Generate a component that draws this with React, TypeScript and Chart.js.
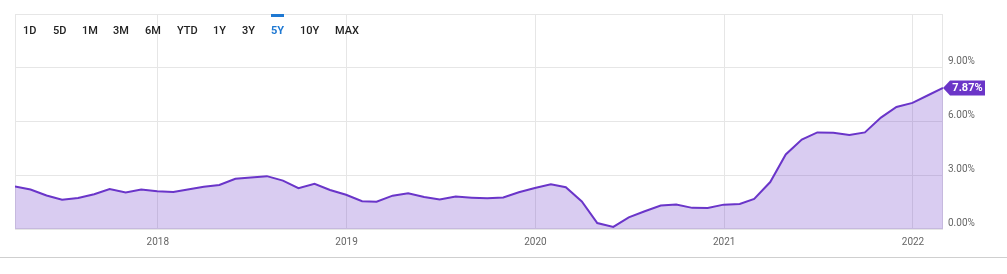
import React, { useEffect, useRef } from "react";
import { Chart, registerables } from "chart.js";

Chart.register(...registerables);

// Month-end observations (YYYY-MM), US CPI YoY %
const months: string[] = [
  "2017-03", "2017-04", "2017-05", "2017-06", "2017-07", "2017-08", "2017-09", "2017-10", "2017-11", "2017-12",
  "2018-01", "2018-02", "2018-03", "2018-04", "2018-05", "2018-06", "2018-07", "2018-08", "2018-09", "2018-10", "2018-11", "2018-12",
  "2019-01", "2019-02", "2019-03", "2019-04", "2019-05", "2019-06", "2019-07", "2019-08", "2019-09", "2019-10", "2019-11", "2019-12",
  "2020-01", "2020-02", "2020-03", "2020-04", "2020-05", "2020-06", "2020-07", "2020-08", "2020-09", "2020-10", "2020-11", "2020-12",
  "2021-01", "2021-02", "2021-03", "2021-04", "2021-05", "2021-06", "2021-07", "2021-08", "2021-09", "2021-10", "2021-11", "2021-12",
  "2022-01", "2022-02",
];

const values: number[] = [
  2.38, 2.20, 1.87, 1.63, 1.73, 1.94, 2.23, 2.04, 2.20, 2.11,
  2.07, 2.21, 2.36, 2.46, 2.80, 2.87, 2.95, 2.70, 2.28, 2.52, 2.18, 1.91,
  1.55, 1.52, 1.86, 2.00, 1.79, 1.65, 1.81, 1.75, 1.71, 1.76, 2.05, 2.29,
  2.49, 2.33, 1.54, 0.33, 0.12, 0.65, 0.99, 1.31, 1.37, 1.18, 1.17, 1.36,
  1.40, 1.68, 2.62, 4.16, 4.99, 5.39, 5.37, 5.25, 5.39, 6.22, 6.81, 7.04,
  7.48, 7.87,
];

const yearTicks: number[] = [2018, 2019, 2020, 2021, 2022];
const yTicks: number[] = [0, 3, 6, 9, 12];
const rangeButtons: string[] = ["1D", "5D", "1M", "3M", "6M", "YTD", "1Y", "3Y", "5Y", "10Y", "MAX"];
const buttonLefts: number[] = [23, 53, 82, 113, 145, 177, 213, 242, 271, 300, 335];
const activeButton = "5Y";

function monthEndToYear(m: string): number {
  const [y, mo] = m.split("-").map(Number);
  const d = Date.UTC(y, mo, 0);
  const s = Date.UTC(y, 0, 1);
  const e = Date.UTC(y + 1, 0, 1);
  return y + (d - s) / (e - s);
}

const LINE = "#6a35c9";
const GRID = "#e6e6e6";

export default function App() {
  const ref = useRef<HTMLCanvasElement | null>(null);

  useEffect(() => {
    if (!ref.current) return;
    const pts = months.map((m, i) => ({ x: monthEndToYear(m), y: values[i] }));

    const borderPlugin = {
      id: "areaBorder",
      beforeDatasetsDraw(chart: any) {
        const { ctx, chartArea } = chart;
        ctx.save();
        ctx.strokeStyle = GRID;
        ctx.lineWidth = 1;
        const l = Math.round(chartArea.left) + 0.5;
        const r = Math.round(chartArea.right) - 0.5;
        const t = Math.round(chartArea.top) + 0.5;
        const b = Math.round(chartArea.bottom) - 0.5;
        ctx.strokeRect(l, t, r - l, b - t);
        ctx.restore();
      },
    };

    const lastLabelPlugin = {
      id: "lastLabel",
      afterDatasetsDraw(chart: any) {
        const meta = chart.getDatasetMeta(0);
        const el = meta.data[meta.data.length - 1];
        if (!el) return;
        const { ctx } = chart;
        const x = el.x;
        const y = el.y;
        const h = 15;
        ctx.save();
        ctx.fillStyle = "#6b35c8";
        ctx.beginPath();
        ctx.moveTo(x, y);
        ctx.lineTo(x + 7, y - h / 2);
        ctx.lineTo(x + 42, y - h / 2);
        ctx.lineTo(x + 42, y + h / 2);
        ctx.lineTo(x + 7, y + h / 2);
        ctx.closePath();
        ctx.fill();
        ctx.fillStyle = "#ffffff";
        ctx.font = "bold 11px Roboto";
        ctx.textAlign = "center";
        ctx.textBaseline = "middle";
        ctx.fillText(values[values.length - 1].toFixed(2) + "%", x + 24.5, y + 0.5);
        ctx.restore();
      },
    };

    const chart = new Chart(ref.current, {
      type: "line",
      data: {
        datasets: [
          {
            data: pts,
            borderColor: LINE,
            borderWidth: 2,
            backgroundColor: "rgba(104, 52, 200, 0.25)",
            fill: "origin",
            pointRadius: 0,
            tension: 0,
          },
        ],
      },
      options: {
        responsive: false,
        animation: false,
        events: [],
        layout: { padding: { left: 15, top: 14, right: 0, bottom: 0 } },
        plugins: { legend: { display: false }, tooltip: { enabled: false } },
        scales: {
          x: {
            type: "linear",
            min: pts[0].x,
            max: pts[pts.length - 1].x,
            afterBuildTicks(scale: any) {
              scale.ticks = yearTicks.map((v) => ({ value: v }));
            },
            afterFit(scale: any) {
              scale.height = 45;
            },
            grid: { color: GRID, drawTicks: false },
            border: { display: false },
            ticks: {
              autoSkip: false,
              maxRotation: 0,
              padding: 7,
              color: "#666666",
              font: { family: "Roboto", size: 10 },
              callback: (v: any) => String(v),
            },
          },
          y: {
            type: "linear",
            position: "right",
            min: 0,
            max: 12,
            afterBuildTicks(scale: any) {
              scale.ticks = yTicks.map((v) => ({ value: v }));
            },
            afterFit(scale: any) {
              scale.width = 64;
            },
            grid: { color: GRID, drawTicks: false },
            border: { display: false },
            ticks: {
              padding: 5,
              labelOffset: -6,
              color: "#666666",
              font: { family: "Roboto", size: 10 },
              callback: (v: any) => (Number(v) === 12 ? "" : Number(v).toFixed(2) + "%"),
            },
          },
        },
      },
      plugins: [borderPlugin, lastLabelPlugin],
    });
    return () => chart.destroy();
  }, []);

  return (
    <div
      style={{
        position: "absolute",
        left: 0,
        top: 0,
        width: 1007,
        height: 274,
        background: "#fff",
        overflow: "hidden",
        fontFamily: "Roboto",
      }}
    >
      <canvas ref={ref} width={1007} height={274} style={{ position: "absolute", left: 0, top: 0 }} />
      {rangeButtons.map((b, i) => (
        <div
          key={b}
          style={{
            position: "absolute",
            left: buttonLefts[i],
            top: 25,
            fontSize: 11,
            lineHeight: "12px",
            color: b === activeButton ? "#1e78d2" : "#222222",
            fontWeight: b === activeButton ? 700 : 500,
            whiteSpace: "nowrap",
          }}
        >
          {b}
        </div>
      ))}
      <div
        style={{
          position: "absolute",
          left: buttonLefts[rangeButtons.indexOf(activeButton)],
          top: 14,
          width: 13,
          height: 3,
          background: "#1e78d2",
        }}
      />
      <div style={{ position: "absolute", left: 0, top: 257, width: 1007, height: 1, background: "#cfcfcf" }} />
    </div>
  );
}
